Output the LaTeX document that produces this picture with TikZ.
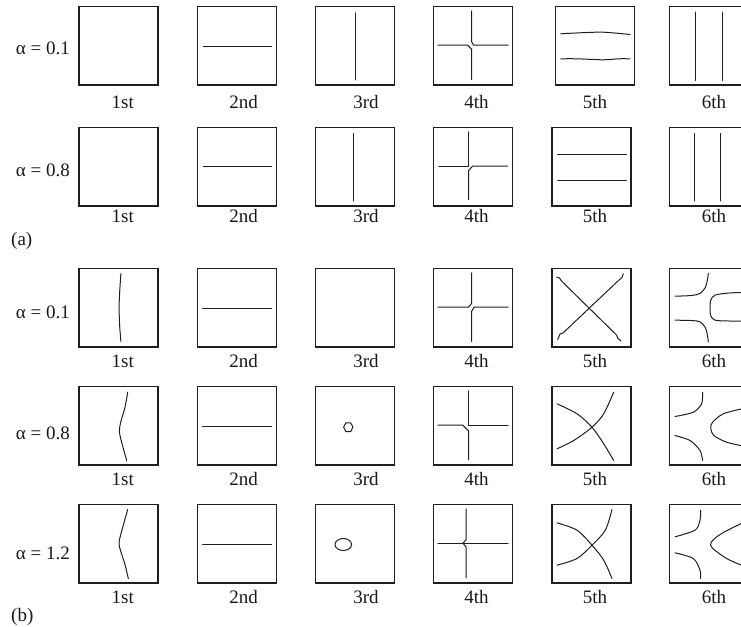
\documentclass[tikz,border=0pt]{standalone}
\usepackage{fontspec}
\setmainfont{Liberation Serif}
\newcommand{\panelbox}[3]{\begin{scope}[shift={(#1,#2)}]\draw[box] (0,0) rectangle (79,78.5);#3\end{scope}}
\begin{document}
\begin{tikzpicture}[x=1pt,y=-1pt,
  box/.style={draw=black!88, line width=1.15pt},
  crv/.style={draw=black!88, line width=1pt, line cap=round, line join=round},
  lab/.style={font=\fontsize{19}{22}\selectfont, inner sep=0pt, anchor=base, text=black!90}]
\useasboundingbox (0,0) rectangle (741,626);
% ---------- (a) row 1, alpha = 0.1
\panelbox{79}{6.5}{}
\panelbox{197.3}{6.5}{\draw[crv] (6,39.7) -- (74.3,39.7);}
\panelbox{315.3}{6.5}{\draw[crv] (39.7,6.3) -- (39.7,73.3);}
\panelbox{433.5}{6.5}{
  \draw[crv] (38,4.3) -- (38,35) -- (40,38.7) -- (74.7,38.7);
  \draw[crv] (4.3,38.7) -- (34,38.7) -- (38,42.7) -- (38,73);}
\panelbox{555.7}{6.5}{
  \draw[crv] plot[smooth] coordinates {(5,27.3) (24.3,26.3) (47.7,25.7) (74.3,28)};
  \draw[crv] plot[smooth] coordinates {(5,52.3) (21,52.3) (47.7,53.3) (62.7,52.3) (74.3,52.3)};}
\panelbox{669.3}{6.5}{
  \draw[crv] (26.3,5.7) -- (26.3,74);
  \draw[crv] (53.3,5.7) -- (53.3,74);}
% ---------- (a) row 2, alpha = 0.8
\panelbox{79}{127.5}{}
\panelbox{197.3}{127.5}{\draw[crv] (6,39.3) -- (74.3,39.3);}
\panelbox{315.3}{127.5}{\draw[crv] (38,6) -- (38,73.3);}
\panelbox{433.5}{127.5}{
  \draw[crv] (5.3,38.7) -- (35,38.7) -- (35,4.3);
  \draw[crv] (74,38.7) -- (39,38.7) -- (35,43.3) -- (35,72);}
\panelbox{552}{127.5}{
  \draw[crv] (5.7,26.7) -- (74.3,26.7);
  \draw[crv] (5.7,53.3) -- (74.3,53.3);}
\panelbox{669.3}{127.5}{
  \draw[crv] (24.7,6) -- (24.7,73.3);
  \draw[crv] (51.3,6) -- (51.3,73.3);}
% ---------- (b) row 1, alpha = 0.1
\panelbox{79}{268.5}{
  \draw[crv] plot[smooth] coordinates {(41.9,5) (40.6,25) (40.1,40) (40.7,58) (41.9,73)};}
\panelbox{197.3}{268.5}{\draw[crv] (5.3,40) -- (74.3,40);}
\panelbox{315.3}{268.5}{}
\panelbox{433.5}{268.5}{
  \draw[crv] (4.3,38.7) -- (35,38.7) -- (38,35) -- (38,4.3);
  \draw[crv] (38,73) -- (38,43) -- (40.5,38.7) -- (74.7,38.7);}
\panelbox{552}{268.5}{
  \draw[crv] (4.7,8.7) -- (7.5,9.5) -- (9.5,12.5) -- (64.5,66.5) -- (66,70) -- (69,72.5);
  \draw[crv] (71.3,5.3) -- (70,9) -- (66.5,12) -- (11,64.5) -- (8,65.5) -- (5.7,71);}
\panelbox{669.3}{268.5}{
  \draw[crv] plot[smooth] coordinates {(5.7,27.7) (22,27) (30.7,25) (36,19) (38,12) (39,5)};
  \draw[crv] plot[smooth] coordinates {(5.7,51.7) (22,52) (30.7,53.3) (36,59) (38,66) (39,73.3)};
  \draw[crv] plot[smooth] coordinates {(74,24) (60,24.5) (46,26.5) (41.5,31.5) (40.7,40) (41.5,47.5) (46,51.7) (60,52.5) (74,52.7)};}
% ---------- (b) row 2, alpha = 0.8
\panelbox{79}{386.5}{
  \draw[crv] plot[smooth] coordinates {(48.7,5.7) (46,20.7) (41.7,35.7) (40.4,45) (42.7,56) (47.7,74)};}
\panelbox{197.3}{386.5}{\draw[crv] (5.3,40) -- (74.3,40);}
\panelbox{315.3}{386.5}{
  \draw[crv] (28.3,40.7) -- (30.6,36.4) -- (35.4,36.4) -- (37.7,40.7) -- (35.4,45) -- (30.6,45) -- cycle;}
\panelbox{433.5}{386.5}{
  \draw[crv] (35,4.3) -- (35,38.7) -- (74.7,38.7);
  \draw[crv] (4.3,38.7) -- (29.3,38.7) -- (35,44.3) -- (35,73.3);}
\panelbox{552}{386.5}{
  \draw[crv] plot[smooth] coordinates {(5,17.3) (25,27.3) (40,40.7) (51.7,57.3) (61.7,74)};
  \draw[crv] plot[smooth] coordinates {(61.7,5.7) (51.7,27.3) (40,40.7) (21.7,54) (5,62.3)};}
\panelbox{669.3}{386.5}{
  \draw[crv] plot[smooth] coordinates {(5.7,30) (24,25.7) (32.3,17.3) (33.3,5.7)};
  \draw[crv] plot[smooth] coordinates {(5.7,49) (20.7,54) (30.7,64) (33.3,74)};
  \draw[crv] plot[smooth] coordinates {(74,22) (54,27.3) (43,36) (41.5,42) (44.5,49) (57.3,55.7) (74,59.5)};}
% ---------- (b) row 3, alpha = 1.2
\panelbox{79}{504.5}{
  \draw[crv] plot[smooth] coordinates {(48.7,5) (44.5,20) (41,33) (40,39.5) (41.5,46) (46,60) (49.3,74)};}
\panelbox{197.3}{504.5}{\draw[crv] (5.3,40) -- (74.3,40);}
\panelbox{315.3}{504.5}{\draw[crv] (28,40) ellipse [x radius=8.3, y radius=6];}
\panelbox{433.5}{504.5}{
  \draw[crv] (4.3,38.7) -- (74.7,38.7);
  \draw[crv] (32.7,4.3) -- (32.7,35) -- (29.5,38.7) -- (32.7,42.7) -- (32.7,73.3);}
\panelbox{552}{504.5}{
  \draw[crv] plot[smooth] coordinates {(5,18.3) (25,25.7) (40,40.7) (51.7,55.7) (60,74)};
  \draw[crv] plot[smooth] coordinates {(60,5) (53.3,25.7) (40,40.7) (25,54) (5,60.7)};}
\panelbox{669.3}{504.5}{
  \draw[crv] plot[smooth] coordinates {(5.7,32.3) (25.7,25.7) (30.7,15.7) (31.3,5.7)};
  \draw[crv] plot[smooth] coordinates {(5.7,48.3) (24,54) (30.7,65.7) (31.3,74)};
  \draw[crv] plot[smooth] coordinates {(74,18) (52.3,29) (42,37.5) (43,43.5) (57.3,54) (74,61.5)};}
% ---------- column labels
\foreach \r/\yb in {a1/108.3,a2/222,b1/367.3,b2/485,b3/603.3}{
  \foreach \c/\xc/\t in {1/122.7/1st,2/243.6/2nd,3/366/3rd,4/476.5/4th,5/595/5th,6/714/6th}{
    \node[lab] (n-\r-\c) at (\xc,\yb) {\t};}}
% ---------- alpha labels
\node[lab, anchor=base east] (al-a1) at (70,55) {α = 0.1};
\node[lab, anchor=base east] (al-a2) at (70,176) {α = 0.8};
\node[lab, anchor=base east] (al-b1) at (70,318.3) {α = 0.1};
\node[lab, anchor=base east] (al-b2) at (70,439) {α = 0.8};
\node[lab, anchor=base east] (al-b3) at (70,559.5) {α = 1.2};
% ---------- part labels
\node[lab, anchor=base west] (pa) at (11,245.5) {(a)};
\node[lab, anchor=base west] (pb) at (11,621) {(b)};
\end{tikzpicture}
\end{document}
